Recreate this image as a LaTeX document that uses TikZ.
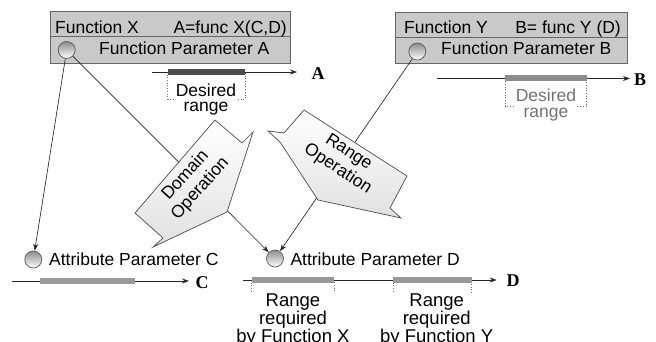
\documentclass[tikz,border=0pt]{standalone}
\usepackage{fontspec}
\setmainfont{Liberation Sans}
\newfontfamily\axisfont{Liberation Serif}
\usetikzlibrary{arrows.meta}

\begin{document}
\begin{tikzpicture}[x=1pt,y=-1pt,
  every node/.style={font=\fontsize{17.5}{19}\selectfont, inner sep=1pt},
  fbox/.style={draw=black!60, fill=black!21, line width=0.8pt},
  ball/.style={circle, minimum size=17pt, inner sep=0pt, draw=black!65,
    top color=black!45, bottom color=white, line width=0.7pt},
  conn/.style={draw=black!85, line width=0.65pt, -{Stealth[length=7pt,width=5pt]}},
  axis/.style={draw=black!85, line width=0.7pt, -{Stealth[length=7pt,width=5pt]}},
  rangebox/.style={draw=black!55, dotted, line width=0.7pt},
  callout/.style={draw=black!70, line width=0.7pt, top color=white, bottom color=black!12},
  optext/.style={align=center, font=\fontsize{17.5}{20}\selectfont},
  rangetext/.style={align=center, fill=white, inner sep=0.5pt, font=\fontsize{17.5}{15.5}\selectfont},
  reqtext/.style={align=center, fill=white, inner sep=0.5pt, font=\fontsize{18.5}{15.5}\selectfont},
  lab/.style={font=\axisfont\bfseries\fontsize{18}{20}\selectfont, inner sep=0pt}
]
\useasboundingbox (0,0) rectangle (656,342);

% --- function boxes ---
\draw[fbox] (50,11.7) rectangle (290.7,63.3);
\draw[black!60, line width=0.8pt] (50,36.7) -- (290.7,36.7);
\node[anchor=base west] (fxname) at (54,33.3) {Function X};
\node[anchor=base east] (fxdef) at (288,33.3) {A=func X(C,D)};
\node[anchor=base west] (fxpar) at (98,55) {Function Parameter A};

\draw[fbox] (395,12.7) rectangle (627.7,63.3);
\draw[black!60, line width=0.8pt] (395,37.2) -- (627.7,37.2);
\node[anchor=base west] (fyname) at (403,34) {Function Y};
\node[anchor=base east] (fydef) at (622,34) {B= func Y (D)};
\node[anchor=base west] (fypar) at (440,55) {Function Parameter B};

% --- parameter balls ---
\node[ball] (ca) at (66.7,50) {};
\node[ball] (cb) at (417.3,51.5) {};
\node[ball] (cc) at (33.3,259.5) {};
\node[ball] (cd) at (275,258.5) {};

% --- connectors ---
\draw[conn] (ca) -- (cc);
\draw[conn] (ca) -- (cd);
\draw[conn] (cb) -- (cd);

% --- operation callouts ---
\draw[callout] (215,120) -- (242,143) -- (253,132) -- (227,212) -- (153,247)
  -- (163,238) -- (135,213) -- cycle;
\node[optext, rotate=48] (dom) at (193,182) {Domain\\Operation};

\draw[callout] (304,110) -- (407,176) -- (390,208) -- (401,218) -- (318,200)
  -- (280,142) -- (268,131) -- (284,133) -- cycle;
\node[optext, rotate=-33] (rng) at (343,161) {Range\\Operation};

% --- attribute labels ---
\node[anchor=base west] (ctext) at (48,265) {Attribute Parameter C};
\node[anchor=base west] (dtext) at (289.3,265) {Attribute Parameter D};

% --- axis A ---
\coordinate (a0) at (152,72);
\coordinate (a1) at (297,72);
\node[lab] (alab) at (318,74) {A};
\draw[rangebox] (167.7,72) -- (167.7,99) -- (245,99) -- (245,72);
\draw[axis] (a0) -- (a1);
\fill[black!70] (167.7,69.3) rectangle (245,74.8);
\node[rangetext] (ades) at (206,99.5) {Desired\\range};

% --- axis B ---
\coordinate (b0) at (436.7,78.5);
\coordinate (b1) at (630,78.5);
\node[lab] (blab) at (640,79.5) {B};
\draw[rangebox] (505,78.5) -- (505,106) -- (586.7,106) -- (586.7,78.5);
\draw[axis] (b0) -- (b1);
\fill[black!45] (505,75.5) rectangle (586.7,81.5);
\node[rangetext, text=black!55] (bdes) at (546,105) {Desired\\range};

% --- axis C ---
\coordinate (c0) at (11.7,281);
\coordinate (c1) at (189,281);
\node[lab] (clab) at (202,282.5) {C};
\draw[axis] (c0) -- (c1);
\fill[black!40] (40,278) rectangle (135,284);

% --- axis D ---
\coordinate (d0) at (243.3,280);
\coordinate (d1) at (496.7,280);
\node[lab] (dlab) at (513,280.5) {D};
\draw[rangebox] (251.7,280) -- (251.7,306.5) -- (334,306.5) -- (334,280);
\draw[rangebox] (393.3,280) -- (393.3,306.5) -- (471.7,306.5) -- (471.7,280);
\draw[axis] (d0) -- (d1);
\fill[black!40] (251.7,277) rectangle (334,283.3);
\fill[black!40] (393.3,277) rectangle (471.7,283.3);
\node[reqtext, anchor=north] (dreqx) at (293,293) {Range\\required\\by Function X};
\node[reqtext, anchor=north] (dreqy) at (436.7,293) {Range\\required\\by Function Y};

\end{tikzpicture}
\end{document}
